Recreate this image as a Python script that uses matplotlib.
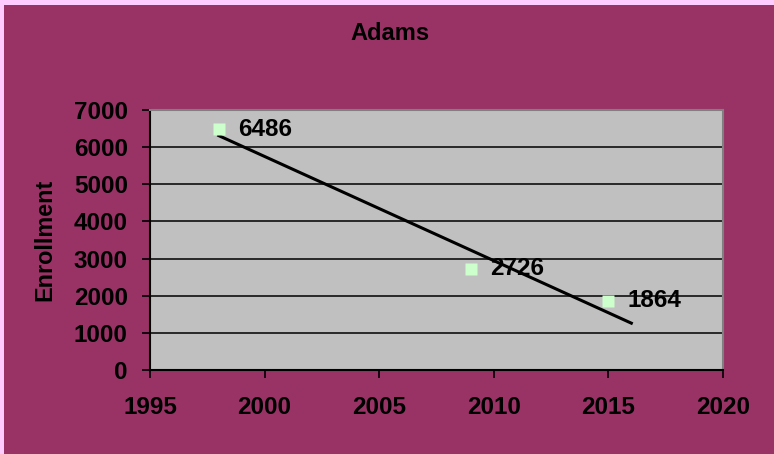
import numpy as np
import matplotlib.pyplot as plt
from matplotlib.patches import Rectangle

plt.rcParams['font.family'] = ['Liberation Sans', 'DejaVu Sans']
plt.rcParams['font.weight'] = 'bold'

# enrollment by year
years = [1998, 2009, 2015]
enrollment = [6486, 2726, 1864]
x_ticks = [1995, 2000, 2005, 2010, 2015, 2020]
y_ticks = [0, 1000, 2000, 3000, 4000, 5000, 6000, 7000]

W, H = 774, 454
fig = plt.figure(figsize=(W / 100, H / 100), dpi=100, facecolor='#FFCCFF')
# maroon chart area inside the thin pink frame
fig.patches.append(Rectangle((4 / W, 0), 1 - 4 / W, 1 - 5 / H,
                             transform=fig.transFigure, facecolor='#993366',
                             edgecolor='none', zorder=-10))

ax = fig.add_axes([150 / W, 1 - 370 / H, 573 / W, 260 / H])
ax.set_facecolor('#C0C0C0')
ax.set_xlim(1995, 2020)
ax.set_ylim(0, 7000)
ax.set_xticks(x_ticks)
ax.set_yticks(y_ticks)
ax.grid(axis='y', color='black', linewidth=1.1)
ax.set_axisbelow(True)

for side in ['top', 'right']:
    ax.spines[side].set_color('#808080')
    ax.spines[side].set_linewidth(1.5)
for side in ['left', 'bottom']:
    ax.spines[side].set_color('black')
    ax.spines[side].set_linewidth(1.5)

ax.tick_params(axis='both', direction='out', length=6, width=1.2,
               labelsize=17.5, colors='black')
ax.tick_params(axis='x', pad=13)
ax.tick_params(axis='y', pad=10)
for lbl in ax.get_xticklabels() + ax.get_yticklabels():
    lbl.set_fontweight('bold')

# linear trendline, forecast one year ahead
coef = np.polyfit(years, enrollment, 1)
tx = np.array([years[0], years[-1] + 1])
ax.plot(tx, np.polyval(coef, tx), color='black', linewidth=2.2, zorder=3)

ax.plot(years, enrollment, linestyle='none', marker='s', markersize=8.5,
        markerfacecolor='#CCFFCC', markeredgecolor='none', zorder=4)
for x, y in zip(years, enrollment):
    ax.annotate(str(y), (x, y), xytext=(14, 0), textcoords='offset points',
                ha='left', va='center', fontsize=17.5, fontweight='bold', zorder=5)

fig.text(390 / W, 1 - 34 / H, 'Adams', ha='center', va='center',
         fontsize=17, fontweight='bold')
fig.text(45 / W, 1 - 240 / H, 'Enrollment', ha='center', va='center',
         rotation=90, fontsize=16.8, fontweight='bold')

fig.savefig('out.png', dpi=100, facecolor=fig.get_facecolor())
